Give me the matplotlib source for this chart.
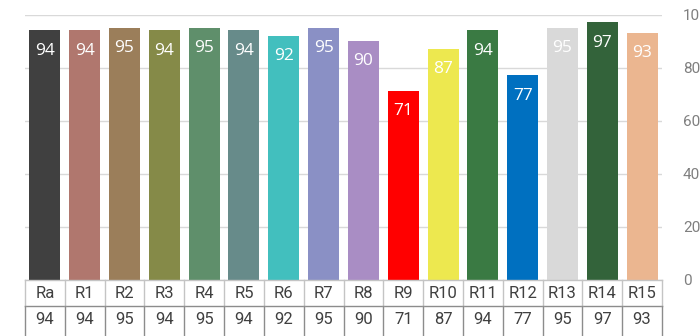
import matplotlib.pyplot as plt
from matplotlib.lines import Line2D

cats = ["Ra", "R1", "R2", "R3", "R4", "R5", "R6", "R7",
        "R8", "R9", "R10", "R11", "R12", "R13", "R14", "R15"]
vals = [94, 94, 95, 94, 95, 94, 92, 95, 90, 71, 87, 94, 77, 95, 97, 93]
colors = ["#404040", "#b0776e", "#9b7e5a", "#858a48", "#5f8f6b", "#678b8a",
          "#42bfbe", "#8a90c5", "#a98dc4", "#ff0000", "#ede84f", "#3a7a43",
          "#0070c0", "#d9d9d9", "#33633a", "#ebb690"]

W, H = 700, 336
fig = plt.figure(figsize=(W / 100, H / 100), dpi=100)

# plot area in pixels
x0, x1 = 25, 662
y_top, y_zero = 14.5, 279.5
ax = fig.add_axes([x0 / W, (H - y_zero) / H, (x1 - x0) / W, (y_zero - y_top) / H])

n = len(cats)
xs = list(range(n))
bars = ax.bar(xs, vals, width=0.78, color=colors, zorder=2)
ax.set_xlim(-0.5, n - 0.5)
ax.set_ylim(0, 100)
ax.set_yticks(range(0, 101, 20))
ax.yaxis.tick_right()
ax.tick_params(axis="y", length=0, pad=15, labelsize=11, labelcolor="#7f7f7f")
ax.tick_params(axis="x", length=0, labelbottom=False)
for lab in ax.get_yticklabels():
    lab.set_fontfamily("Roboto")
ax.grid(axis="y", color="#d9d9d9", linewidth=1, zorder=0)
for s in ax.spines.values():
    s.set_visible(False)

# value labels inside the bar tops
for b, v in zip(bars, vals):
    ax.annotate(str(v), (b.get_x() + b.get_width() / 2, v), xytext=(0, -14.5),
                textcoords="offset points", ha="center", va="center",
                color="white", fontsize=12.5, family="Open Sans")

# data table under the axis
def fx(px):
    return px / W

def fy(py):
    return 1 - py / H

col_w = (x1 - x0) / n
r0, r1, r2 = 280, 306, 336
light, dark = "#c4c4c4", "#8c8c8c"
fig.add_artist(Line2D([fx(x0), fx(x1)], [fy(r0), fy(r0)], color=light, lw=1))
fig.add_artist(Line2D([fx(x0), fx(x1)], [fy(r1), fy(r1)], color=dark, lw=1))
for i in range(n + 1):
    xp = x0 + i * col_w
    fig.add_artist(Line2D([fx(xp), fx(xp)], [fy(r0), fy(r1)], color=light, lw=1))
    fig.add_artist(Line2D([fx(xp), fx(xp)], [fy(r1), fy(r2)], color=dark, lw=1))
for i, (c, v) in enumerate(zip(cats, vals)):
    xc = x0 + (i + 0.5) * col_w
    fig.text(fx(xc), fy((r0 + r1) / 2), c, ha="center", va="center",
             fontsize=12, color="#404040", family="Roboto")
    fig.text(fx(xc), fy((r1 + 332) / 2), str(v), ha="center", va="center",
             fontsize=12, color="#404040", family="Roboto")

fig.savefig("out.png", dpi=100)
